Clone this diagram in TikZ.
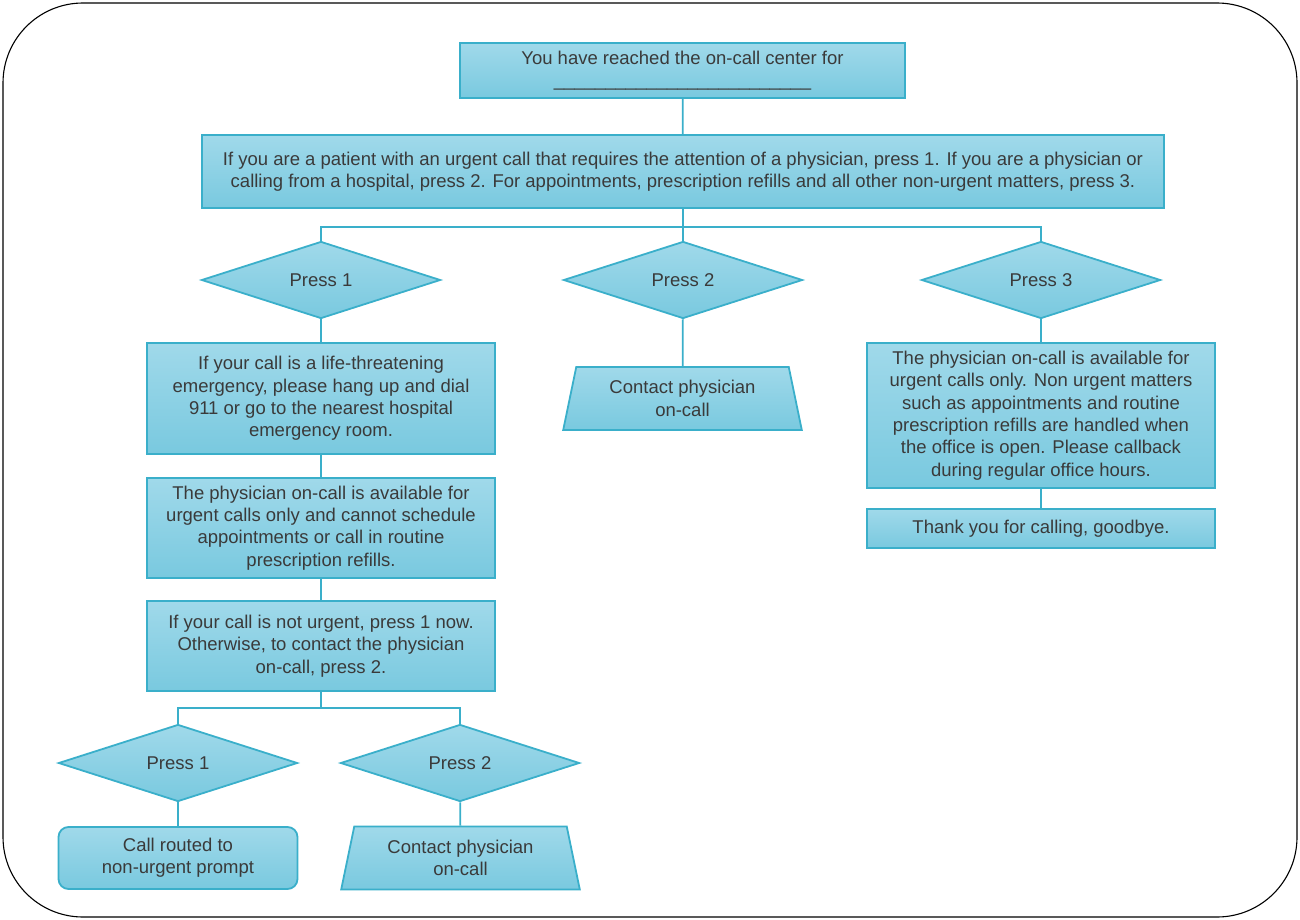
\documentclass[tikz,border=0pt]{standalone}
\usepackage{fontspec}
\setmainfont{Liberation Sans}
\usetikzlibrary{shapes.geometric}

\definecolor{box top}{HTML}{A0D9EA}
\definecolor{box bottom}{HTML}{79C9DF}
\definecolor{box edge}{HTML}{3AAFCA}
\definecolor{box text}{HTML}{3A3A3A}
\tikzset{base/.style={draw=box edge, line width=1.8pt, top color=box top, bottom color=box bottom,
        text=box text, align=center, inner sep=0pt,
        font=\fontsize{18.5}{22.4}\selectfont},
    stepbox/.style={base, rectangle, minimum width=#1},
    stepbox/.default=348,
    choice/.style={base, diamond, minimum width=239, minimum height=77},
    action/.style={base, trapezium, trapezium left angle=76, trapezium right angle=76,
        trapezium stretches=true, minimum width=239, minimum height=63},
    ending/.style={base, rectangle, rounded corners=10pt, minimum width=239, minimum height=62},
    link/.style={draw=box edge, line width=1.8pt}}

\begin{document}
\begin{tikzpicture}[x=1pt, y=-1pt]
    \useasboundingbox (0,0) rectangle (1300,920);
    \draw[line width=1.1pt, rounded corners=80pt] (3,3) rectangle (1297,917);

    % top of the menu
    \node[stepbox=445, minimum height=55] (start) at (682.5,70.5)
        {You have reached the on-call center for\\\_\_\_\_\_\_\_\_\_\_\_\_\_\_\_\_\_\_\_\_\_\_\_\_\_};
    \node[stepbox=962, minimum height=73] (menu) at (683,171.5)
        {If you are a patient with an urgent call that requires the attention of a physician, press 1. If you are a physician or\\
         calling from a hospital, press 2. For appointments, prescription refills and all other non-urgent matters, press 3.};

    \node[choice] (pressA) at (321,280) {Press 1};
    \node[choice] (pressB) at (683,280) {Press 2};
    \node[choice] (pressC) at (1041,280) {Press 3};

    % left branch
    \node[stepbox, minimum height=111] (urgent) at (321,398.5)
        {If your call is a life-threatening\\emergency, please hang up and dial\\911 or go to the nearest hospital\\emergency room.};
    \node[stepbox, minimum height=100] (onlyurgent) at (321,528)
        {The physician on-call is available for\\urgent calls only and cannot schedule\\appointments or call in routine\\prescription refills.};
    \node[stepbox, minimum height=90] (notice) at (321,646)
        {If your call is not urgent, press 1 now.\\Otherwise, to contact the physician\\on-call, press 2.};
    \node[choice] (subA) at (178,763) {Press 1};
    \node[choice] (subB) at (460,763) {Press 2};
    \node[ending] (routed) at (178,858) {Call routed to\\non-urgent prompt};
    \node[action] (contactB) at (460.5,858) {Contact physician\\on-call};

    % middle and right branch
    \node[action] (contactA) at (682.5,398.5) {Contact physician\\on-call};
    \node[stepbox, minimum height=145] (office) at (1041,415.5)
        {The physician on-call is available for\\urgent calls only. Non urgent matters\\such as appointments and routine\\prescription refills are handled when\\the office is open. Please callback\\during regular office hours.};
    \node[stepbox, minimum height=39] (goodbye) at (1041,528.5) {Thank you for calling, goodbye.};

    % connectors
    \draw[link] (start) -- (menu);
    \draw[link] (menu.south) -- ++(0,18) -| (pressA.north);
    \draw[link] (menu.south) -- ++(0,18) -| (pressC.north);
    \draw[link] (menu) -- (pressB);
    \draw[link] (pressA) -- (urgent);
    \draw[link] (urgent) -- (onlyurgent);
    \draw[link] (onlyurgent) -- (notice);
    \draw[link] (notice.south) -- ++(0,16) -| (subA.north);
    \draw[link] (notice.south) -- ++(0,16) -| (subB.north);
    \draw[link] (subA) -- (routed);
    \draw[link] (subB) -- (contactB);
    \draw[link] (pressB) -- (contactA);
    \draw[link] (pressC) -- (office);
    \draw[link] (office) -- (goodbye);
\end{tikzpicture}
\end{document}
